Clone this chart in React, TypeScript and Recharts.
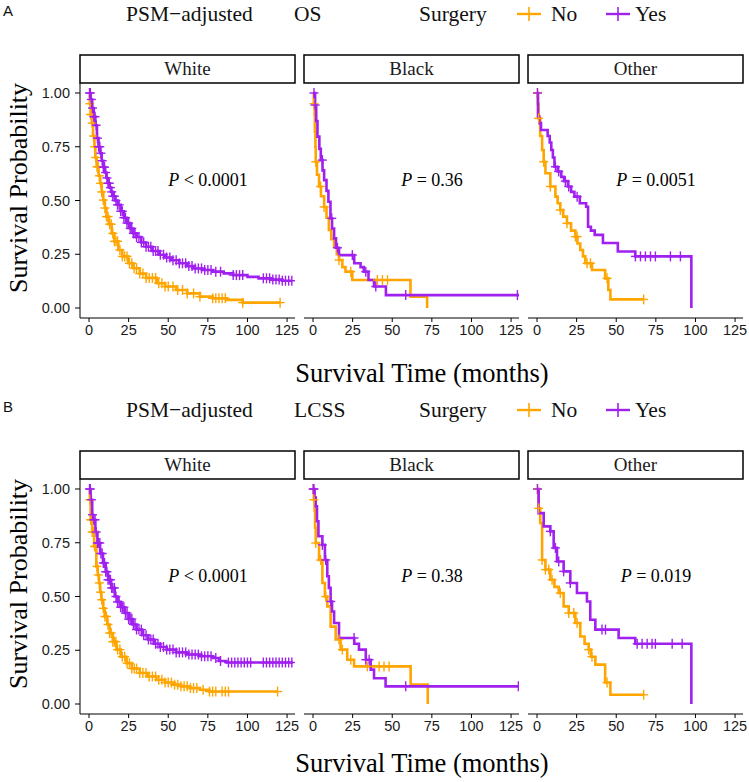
import { ComposedChart, Line, Scatter, XAxis, YAxis } from "recharts";

const ORANGE = "#FFA500";
const PURPLE = "#A020F0";
const SERIF = "'Liberation Serif', 'Times New Roman', serif";
const SANS = "'Liberation Sans', Arial, sans-serif";

const X_TICKS = [0, 25, 50, 75, 100, 125];
const Y_TICKS = [0, 0.25, 0.5, 0.75, 1];
const RACES = ["White", "Black", "Other"];
const OS_P = ["< 0.0001", "= 0.36", "= 0.0051"];
const LCSS_P = ["< 0.0001", "= 0.38", "= 0.019"];

// ---- Panel A: OS ----
const osWhiteNoTime = [0, 0.5, 1, 1.8, 2.5, 3.4, 4, 4.8, 6, 7, 8, 9, 10, 11, 12.5, 14.3, 16, 18.5, 21, 24.8, 28, 32, 36, 42.7, 48, 55, 62, 70, 78, 87, 97, 120.6];
const osWhiteNoSurv = [1, 0.95, 0.9, 0.86, 0.8, 0.75, 0.7, 0.657, 0.615, 0.58, 0.54, 0.502, 0.465, 0.425, 0.39, 0.347, 0.31, 0.27, 0.24, 0.208, 0.185, 0.16, 0.14, 0.115, 0.1, 0.084, 0.068, 0.053, 0.045, 0.038, 0.025, 0.025];
const osWhiteNoCens = [0.5, 1, 1.5, 2, 2.8, 3.5, 4.2, 5, 5.8, 6.5, 7.3, 8, 9, 10, 11, 12, 13, 14, 15, 16, 17, 18, 19.5, 21, 22.5, 24, 25.5, 27, 28.5, 30, 32, 34, 36, 38, 40, 42, 44, 46, 48, 50, 53, 56, 59, 62, 66, 70, 78, 80, 82, 84, 86, 97, 120.6];

const osWhiteYesTime = [0, 1, 2, 3, 4, 5, 6, 7, 8, 9, 10, 11, 12, 13, 14, 15, 16.5, 18, 20, 22, 24, 26, 28, 30, 33, 36, 40, 44, 48, 52, 57, 62, 66, 72, 78, 85, 91, 100, 107, 115, 122, 128];
const osWhiteYesSurv = [1, 0.97, 0.93, 0.89, 0.85, 0.79, 0.75, 0.72, 0.685, 0.655, 0.63, 0.605, 0.58, 0.56, 0.54, 0.52, 0.5, 0.48, 0.45, 0.42, 0.395, 0.37, 0.347, 0.33, 0.305, 0.285, 0.265, 0.248, 0.235, 0.222, 0.208, 0.195, 0.184, 0.177, 0.169, 0.161, 0.153, 0.145, 0.138, 0.132, 0.127, 0.127];
const osWhiteYesCens = [0.3, 0.8, 1.5, 2.2, 3, 3.8, 4.5, 5.3, 6, 6.8, 7.5, 8.3, 9, 9.8, 10.5, 11.3, 12, 12.8, 13.5, 14.3, 15, 16, 17, 18, 19, 20, 21, 22, 23, 24, 25, 26, 27, 28, 29, 30, 31.5, 33, 34.5, 36, 37.5, 39, 40.5, 42, 43.5, 45, 47, 49, 51, 53, 55, 57, 59, 61, 63, 65, 67, 69, 71, 73, 75, 77, 80, 83, 91, 93, 95, 97, 110, 112, 114, 116, 118, 120, 122, 124, 126, 128];

const osBlackNoTime = [0, 0.5, 1, 1.2, 1.5, 1.7, 2.5, 3.8, 5, 7, 8.5, 10, 11.5, 13.3, 15, 16.4, 18.5, 20.5, 24.8, 61.5, 72];
const osBlackNoSurv = [1, 0.95, 0.9, 0.82, 0.75, 0.68, 0.62, 0.565, 0.52, 0.47, 0.42, 0.363, 0.32, 0.285, 0.25, 0.223, 0.19, 0.169, 0.13, 0.053, 0];
const osBlackNoCens = [0.6, 1.7, 4.8, 7, 16.4, 23.8, 40.6, 43.8, 47];

const osBlackYesTime = [0, 1.3, 2, 2.8, 4, 4.9, 6, 7, 8.5, 9.7, 11, 12, 13.3, 14.5, 16.4, 26, 30, 32, 35, 38.5, 46, 130];
const osBlackYesSurv = [1, 0.944, 0.87, 0.797, 0.74, 0.688, 0.64, 0.595, 0.545, 0.494, 0.417, 0.37, 0.324, 0.28, 0.246, 0.208, 0.19, 0.169, 0.13, 0.1, 0.06, 0.06];
const osBlackYesCens = [0.6, 1.3, 5.9, 11.8, 15.4, 24.8, 33.3, 39.6, 58.5, 129];

const osOtherNoTime = [0, 0.5, 1, 2, 3.2, 4.2, 5.3, 8.4, 11.6, 13, 14.7, 16.5, 18.9, 21.5, 24.2, 25.5, 27.3, 29, 30.5, 34.7, 43, 45, 46.3, 67.3];
const osOtherNoSurv = [1, 0.95, 0.882, 0.8, 0.735, 0.68, 0.627, 0.565, 0.518, 0.487, 0.456, 0.425, 0.394, 0.36, 0.332, 0.3, 0.27, 0.24, 0.208, 0.177, 0.138, 0.084, 0.04, 0.04];
const osOtherNoCens = [0.2, 1, 4.2, 8.4, 14.7, 18.9, 24.2, 25.3, 31.6, 33.7, 44.2, 67.3];

const osOtherYesTime = [0, 0.6, 1.5, 2.5, 6.7, 8, 9, 10, 11, 13, 15.3, 17, 19.5, 21.5, 23.6, 27, 31, 32.2, 34, 36.4, 41.6, 51, 62, 97.4];
const osOtherYesSurv = [1, 0.89, 0.86, 0.828, 0.8, 0.77, 0.735, 0.7, 0.657, 0.635, 0.61, 0.59, 0.565, 0.54, 0.518, 0.487, 0.471, 0.378, 0.36, 0.34, 0.302, 0.263, 0.24, 0];
const osOtherYesCens = [0.3, 11.6, 13.7, 17.9, 20, 25.3, 62.1, 65.3, 68.4, 71.6, 74.7, 84.2, 90.5];

// ---- Panel B: LCSS ----
const lcssWhiteNoTime = [0, 0.5, 1, 2, 3.2, 4.6, 5.5, 6.3, 7, 7.8, 9, 9.9, 11.5, 13, 15, 17.3, 20, 23.6, 27, 32, 37, 42.5, 48, 53, 58, 63.6, 70, 76, 119];
const lcssWhiteNoSurv = [1, 0.95, 0.857, 0.8, 0.733, 0.64, 0.6, 0.563, 0.52, 0.485, 0.445, 0.407, 0.37, 0.33, 0.29, 0.253, 0.22, 0.19, 0.165, 0.144, 0.128, 0.113, 0.1, 0.09, 0.082, 0.074, 0.066, 0.058, 0.058];
const lcssWhiteNoCens = [0.5, 1, 1.5, 2, 2.8, 3.5, 4.2, 5, 5.8, 6.5, 7.3, 8, 9, 10, 11, 12, 13, 14, 15, 16, 17, 18, 19.5, 21, 22.5, 24, 25.5, 27, 28.5, 30, 32, 34, 36, 38, 40, 42, 44, 46, 48, 50, 52, 54, 56, 58, 60, 62, 64, 66, 68, 72, 76, 78, 80, 84, 86, 88, 119];

const lcssWhiteYesTime = [0, 1, 2, 2.5, 4, 5.3, 7, 8.8, 10.5, 12, 14, 16.2, 18, 20, 22.5, 25, 27.5, 30, 33.5, 37.4, 41, 45, 49, 55, 61.6, 70, 78, 82, 86.7, 128.7];
const lcssWhiteYesSurv = [1, 0.95, 0.88, 0.857, 0.8, 0.749, 0.7, 0.656, 0.615, 0.578, 0.54, 0.5, 0.475, 0.45, 0.423, 0.395, 0.37, 0.346, 0.32, 0.3, 0.28, 0.265, 0.253, 0.24, 0.23, 0.222, 0.214, 0.2, 0.193, 0.193];
const lcssWhiteYesCens = [0.3, 0.8, 1.5, 2.2, 3, 3.8, 4.5, 5.3, 6, 6.8, 7.5, 8.3, 9, 9.8, 10.5, 11.3, 12, 12.8, 13.5, 14.3, 15, 16, 17, 18, 19, 20, 21, 22, 23, 24, 25, 26, 27, 28, 29, 30, 31.5, 33, 34.5, 36, 37.5, 39, 40.5, 42, 43.5, 45, 47, 49, 51, 53, 55, 57, 59, 61, 63, 65, 67, 69, 71, 73, 75, 77, 80, 83, 88, 90, 92, 94, 96, 98, 100, 102, 110, 112, 114, 116, 118, 120, 122, 124, 126, 128];

const lcssBlackNoTime = [0, 0.5, 1, 1.3, 1.7, 3.8, 5.9, 7.5, 9, 11.1, 14.3, 17.4, 21.6, 25.9, 61.6, 72.4];
const lcssBlackNoSurv = [1, 0.95, 0.9, 0.82, 0.749, 0.67, 0.563, 0.5, 0.454, 0.36, 0.3, 0.253, 0.206, 0.175, 0.09, 0];
const lcssBlackNoCens = [0.2, 0.6, 1.7, 4.8, 8, 16.4, 18.5, 23.8, 34.3, 41.7, 44.8, 48];

const lcssBlackYesTime = [0, 1, 1.7, 2.5, 3.4, 5.9, 7.5, 9, 10, 11.1, 12, 13.3, 16.4, 26, 29, 33.3, 36.4, 38.5, 45.8, 129.6];
const lcssBlackYesSurv = [1, 0.96, 0.92, 0.85, 0.78, 0.74, 0.67, 0.594, 0.54, 0.477, 0.43, 0.377, 0.307, 0.28, 0.253, 0.206, 0.16, 0.12, 0.082, 0.082];
const lcssBlackYesCens = [0.1, 0.6, 5.9, 8, 11.2, 25.9, 33.3, 35.4, 58.5, 129.6];

const lcssOtherNoTime = [0, 1, 2, 3.2, 5.3, 8.4, 11, 13.7, 16.8, 20, 24.2, 27.3, 30, 32.6, 34, 36.8, 43, 46.3, 67.3];
const lcssOtherNoSurv = [1, 0.91, 0.842, 0.67, 0.625, 0.578, 0.545, 0.516, 0.454, 0.423, 0.377, 0.314, 0.28, 0.253, 0.22, 0.183, 0.1, 0.043, 0.043];
const lcssOtherNoCens = [0.2, 1, 3.2, 5.3, 7.4, 9.5, 14.7, 20, 23.2, 25.3, 32.6, 34.7, 44.2, 67.3];

const lcssOtherYesTime = [0, 1, 4.2, 8.4, 10.5, 12.6, 16.8, 21, 25.2, 31.5, 33.6, 36.8, 51.5, 62, 97.4];
const lcssOtherYesSurv = [1, 0.888, 0.826, 0.803, 0.726, 0.663, 0.617, 0.563, 0.516, 0.477, 0.392, 0.346, 0.307, 0.28, 0];
const lcssOtherYesCens = [0.3, 8.4, 11.6, 13.7, 16.8, 21, 41, 43.2, 63.2, 66.3, 69.5, 72.6, 74.7, 85.3, 91.6];

interface Curve {
  time: number[];
  surv: number[];
  cens: number[];
}

interface Panel {
  tag: string;
  endpoint: string;
  top: number;
  titleY: number;
  pValues: string[];
  no: Curve[];
  yes: Curve[];
}

const PANELS: Panel[] = [
  {
    tag: "A",
    endpoint: "OS",
    top: 0,
    titleY: 382,
    pValues: OS_P,
    no: [
      { time: osWhiteNoTime, surv: osWhiteNoSurv, cens: osWhiteNoCens },
      { time: osBlackNoTime, surv: osBlackNoSurv, cens: osBlackNoCens },
      { time: osOtherNoTime, surv: osOtherNoSurv, cens: osOtherNoCens },
    ],
    yes: [
      { time: osWhiteYesTime, surv: osWhiteYesSurv, cens: osWhiteYesCens },
      { time: osBlackYesTime, surv: osBlackYesSurv, cens: osBlackYesCens },
      { time: osOtherYesTime, surv: osOtherYesSurv, cens: osOtherYesCens },
    ],
  },
  {
    tag: "B",
    endpoint: "LCSS",
    top: 396,
    titleY: 772,
    pValues: LCSS_P,
    no: [
      { time: lcssWhiteNoTime, surv: lcssWhiteNoSurv, cens: lcssWhiteNoCens },
      { time: lcssBlackNoTime, surv: lcssBlackNoSurv, cens: lcssBlackNoCens },
      { time: lcssOtherNoTime, surv: lcssOtherNoSurv, cens: lcssOtherNoCens },
    ],
    yes: [
      { time: lcssWhiteYesTime, surv: lcssWhiteYesSurv, cens: lcssWhiteYesCens },
      { time: lcssBlackYesTime, surv: lcssBlackYesSurv, cens: lcssBlackYesCens },
      { time: lcssOtherYesTime, surv: lcssOtherYesSurv, cens: lcssOtherYesCens },
    ],
  },
];

// layout
const FACET_LEFT = [80, 304, 528];
const FACET_W = 215;
const RIGHT_PAD = 14; // room for the "125" label
const Y_AXIS_W = 80;
const STRIP_TOP = 55;
const STRIP_H = 28;
const PLOT_TOP = STRIP_TOP + STRIP_H;
const PLOT_H = 235;
const X_AXIS_H = 30;
const X_DOMAIN = [-5.7, 130];
const Y_DOMAIN = [-0.0465, 1.0465];
const TICK_FONT = { fill: "#1a1a1a", fontSize: 14.5, fontFamily: SANS };

function steps(c: Curve) {
  return c.time.map((t, i) => ({ t, s: c.surv[i] }));
}

// KM value at a censoring time (last step at or before it)
function censorMarks(c: Curve) {
  return c.cens.map((t) => {
    let s = c.surv[0];
    for (let i = 0; i < c.time.length; i++) {
      if (c.time[i] <= t) s = c.surv[i];
    }
    return { t, s };
  });
}

function plusShape(color: string) {
  return (props: any) => {
    const { cx, cy } = props;
    if (cx == null || cy == null) return <g />;
    return (
      <g stroke={color} strokeWidth={1.4}>
        <line x1={cx - 4.5} x2={cx + 4.5} y1={cy} y2={cy} />
        <line x1={cx} x2={cx} y1={cy - 5} y2={cy + 5} />
      </g>
    );
  };
}

function Facet({ no, yes, showY }: { no: Curve; yes: Curve; showY: boolean }) {
  return (
    <ComposedChart
      width={(showY ? FACET_W + Y_AXIS_W : FACET_W) + RIGHT_PAD}
      height={PLOT_H + X_AXIS_H}
      margin={{ top: 0, right: RIGHT_PAD, bottom: 0, left: 0 }}
    >
      <XAxis
        type="number"
        dataKey="t"
        domain={X_DOMAIN}
        ticks={X_TICKS}
        interval={0}
        allowDataOverflow
        height={X_AXIS_H}
        axisLine={{ stroke: "#000", strokeWidth: 1 }}
        tickLine={{ stroke: "#000" }}
        tickSize={4}
        tickMargin={3}
        tick={TICK_FONT}
      />
      <YAxis
        type="number"
        dataKey="s"
        domain={Y_DOMAIN}
        ticks={Y_TICKS}
        interval={0}
        allowDataOverflow
        hide={!showY}
        width={Y_AXIS_W}
        tickFormatter={(v: number) => v.toFixed(2)}
        axisLine={{ stroke: "#000", strokeWidth: 1 }}
        tickLine={{ stroke: "#000" }}
        tickSize={5}
        tickMargin={5}
        tick={TICK_FONT}
      />
      <Line
        data={steps(no)}
        dataKey="s"
        type="stepAfter"
        stroke={ORANGE}
        strokeWidth={2.6}
        dot={false}
        isAnimationActive={false}
      />
      <Line
        data={steps(yes)}
        dataKey="s"
        type="stepAfter"
        stroke={PURPLE}
        strokeWidth={2.6}
        dot={false}
        isAnimationActive={false}
      />
      <Scatter data={censorMarks(no)} dataKey="s" shape={plusShape(ORANGE)} isAnimationActive={false} />
      <Scatter data={censorMarks(yes)} dataKey="s" shape={plusShape(PURPLE)} isAnimationActive={false} />
    </ComposedChart>
  );
}

function PanelView({ p }: { p: Panel }) {
  const T = p.top;
  return (
    <>
      {RACES.map((race, i) => (
        <div
          key={race}
          style={{
            position: "absolute",
            left: i === 0 ? FACET_LEFT[0] - Y_AXIS_W : FACET_LEFT[i],
            top: T + PLOT_TOP,
          }}
        >
          <Facet no={p.no[i]} yes={p.yes[i]} showY={i === 0} />
        </div>
      ))}
      <svg
        width={749}
        height={396}
        style={{ position: "absolute", left: 0, top: T, pointerEvents: "none" }}
      >
        <text x={3} y={16} fontFamily={SANS} fontSize={15} fill="#111">
          {p.tag}
        </text>
        <g fontFamily={SERIF} fontSize={21.5} fill="#111">
          <text x={126} y={21}>PSM−adjusted</text>
          <text x={294} y={21}>{p.endpoint}</text>
          <text x={419} y={21}>Surgery</text>
          <text x={551} y={21}>No</text>
          <text x={635} y={21}>Yes</text>
        </g>
        <g stroke={ORANGE} strokeWidth={2.4}>
          <line x1={517} x2={541} y1={14} y2={14} />
          <line x1={529} x2={529} y1={7} y2={21} strokeWidth={1.6} />
        </g>
        <g stroke={PURPLE} strokeWidth={2.4}>
          <line x1={606} x2={630} y1={14} y2={14} />
          <line x1={618} x2={618} y1={7} y2={21} strokeWidth={1.6} />
        </g>
        {RACES.map((race, i) => (
          <g key={race}>
            <rect
              x={FACET_LEFT[i]}
              y={STRIP_TOP}
              width={FACET_W}
              height={STRIP_H}
              fill="#fff"
              stroke="#000"
              strokeWidth={1.5}
            />
            <text
              x={FACET_LEFT[i] + FACET_W / 2}
              y={STRIP_TOP + STRIP_H / 2 + 6}
              textAnchor="middle"
              fontFamily={SERIF}
              fontSize={19}
              fill="#1a1a1a"
            >
              {race}
            </text>
            <text
              x={FACET_LEFT[i] + 128}
              y={PLOT_TOP + 103}
              textAnchor="middle"
              fontFamily={SERIF}
              fontSize={18}
              fill="#000"
            >
              <tspan fontStyle="italic">P</tspan>
              {" " + p.pValues[i]}
            </text>
          </g>
        ))}
        <text
          transform={`translate(18, 188) rotate(-90)`}
          textAnchor="middle"
          dominantBaseline="central"
          fontFamily={SERIF}
          fontSize={26}
          fill="#000"
        >
          Survival Probability
        </text>
        <text
          x={422}
          y={p.titleY - T}
          textAnchor="middle"
          fontFamily={SERIF}
          fontSize={26.5}
          fill="#000"
        >
          Survival Time (months)
        </text>
      </svg>
    </>
  );
}

export default function App() {
  return (
    <div
      style={{
        position: "absolute",
        left: 0,
        top: 0,
        width: 749,
        height: 782,
        background: "#fff",
        overflow: "hidden",
      }}
    >
      {PANELS.map((p) => (
        <PanelView key={p.tag} p={p} />
      ))}
    </div>
  );
}
